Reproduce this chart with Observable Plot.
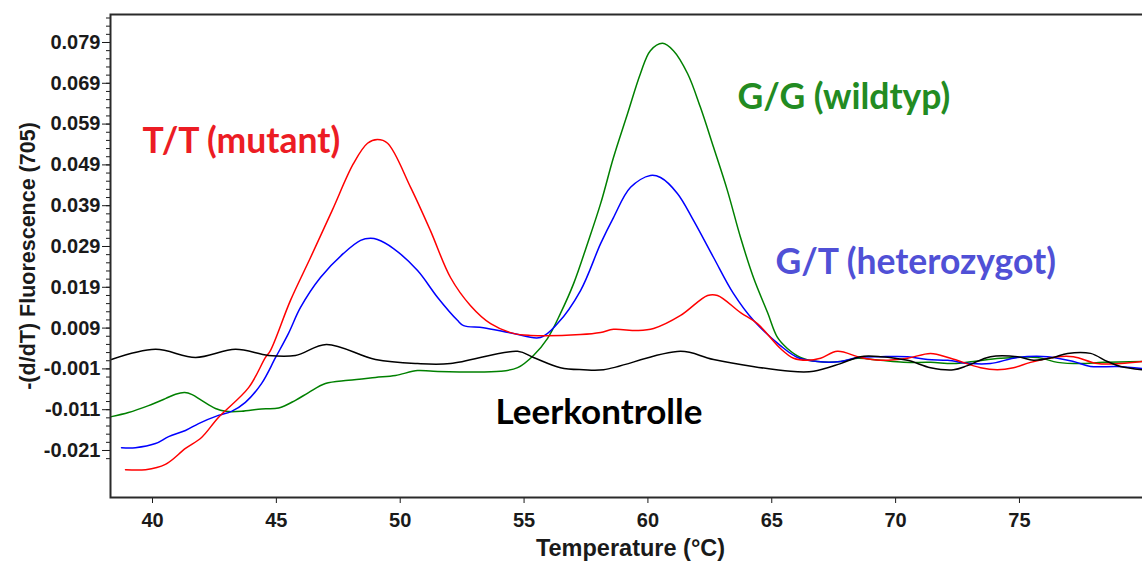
<!DOCTYPE html>
<html><head><meta charset="utf-8">
<script src="https://cdn.jsdelivr.net/npm/d3@7"></script>
<script src="https://cdn.jsdelivr.net/npm/@observablehq/plot@0.6"></script>
<style>html,body{margin:0;padding:0;background:#fff;overflow:hidden;width:1142px;height:561px}</style>
</head><body><div id="chart"></div>
<script>
// Axis ticks
const xTicks = [40, 45, 50, 55, 60, 65, 70, 75];
const yTicks = [0.079, 0.069, 0.059, 0.049, 0.039, 0.029, 0.019, 0.009, -0.001, -0.011, -0.021];
const yMinorTicks = d3.range(-23, 86, 2).map(k => k / 1000);

// Series: [temperature °C, -(d/dT) fluorescence]
const mutantTT = [[38.91,-0.0257],[39.72,-0.0257],[40.52,-0.0244],[41.33,-0.0205],[41.98,-0.0178],[42.66,-0.0129],[43.88,-0.0056],[44.56,0.0018],[44.76,0.0035],[45.57,0.0158],[46.38,0.0263],[47.25,0.0378],[48.11,0.0493],[48.68,0.0543],[49.08,0.0552],[49.49,0.0543],[50.42,0.0435],[51.22,0.0329],[52.03,0.0214],[52.84,0.0145],[53.65,0.0101],[54.57,0.0077],[55.26,0.0072],[57.28,0.0074],[58.09,0.0079],[58.61,0.0087],[59.58,0.0084],[60.23,0.0089],[61.32,0.0121],[62.41,0.0170],[62.81,0.0170],[63.74,0.0128],[64.42,0.0101],[65.35,0.0040],[65.88,0.0016],[66.44,0.0011],[66.97,0.0016],[67.65,0.0033],[68.58,0.0018],[69.39,0.0011],[70.48,0.0016],[71.41,0.0028],[72.22,0.0016],[73.43,-0.0007],[74.11,-0.0012],[74.76,-0.0007],[75.45,0.0006],[76.54,0.0020],[77.18,0.0020],[78.15,0.0003],[79.08,0.0003],[79.97,0.0008]];
const heteroGT = [[38.75,-0.0203],[39.31,-0.0203],[40.12,-0.0193],[40.65,-0.0176],[41.33,-0.0161],[41.86,-0.0144],[42.66,-0.0124],[43.19,-0.0114],[43.75,-0.0092],[44.40,-0.0046],[44.97,0.0018],[45.49,0.0077],[45.97,0.0140],[46.78,0.0214],[47.71,0.0273],[48.40,0.0305],[48.80,0.0310],[49.08,0.0307],[49.73,0.0285],[50.70,0.0231],[51.51,0.0165],[52.31,0.0109],[52.56,0.0096],[53.36,0.0091],[54.57,0.0077],[55.66,0.0067],[56.35,0.0101],[57.28,0.0182],[58.09,0.0297],[58.61,0.0361],[59.30,0.0435],[60.10,0.0464],[60.51,0.0459],[61.19,0.0420],[61.84,0.0354],[62.65,0.0263],[63.45,0.0175],[64.26,0.0109],[65.35,0.0047],[66.04,0.0018],[66.85,0.0008],[67.78,0.0008],[68.46,0.0018],[69.39,0.0020],[70.48,0.0020],[71.29,0.0013],[72.10,0.0011],[73.02,0.0003],[73.83,0.0003],[74.92,0.0018],[76.13,0.0020],[77.18,0.0008],[77.87,-0.0004],[78.96,-0.0004],[79.97,-0.0009]];
const wildGG = [[38.34,-0.0127],[39.03,-0.0117],[39.84,-0.0100],[40.52,-0.0083],[40.93,-0.0072],[41.30,-0.0068],[41.60,-0.0073],[41.98,-0.0087],[42.54,-0.0107],[42.95,-0.0114],[43.59,-0.0114],[44.40,-0.0108],[45.09,-0.0106],[45.77,-0.0087],[46.30,-0.0068],[46.98,-0.0046],[47.91,-0.0038],[49.00,-0.0031],[49.81,-0.0026],[50.70,-0.0014],[51.34,-0.0016],[54.05,-0.0016],[54.74,-0.0007],[55.38,0.0023],[55.95,0.0065],[56.47,0.0126],[57.00,0.0199],[57.56,0.0297],[58.09,0.0395],[58.61,0.0508],[59.18,0.0616],[59.70,0.0714],[60.10,0.0770],[60.59,0.0788],[61.03,0.0770],[61.60,0.0714],[62.12,0.0631],[62.65,0.0533],[63.21,0.0427],[63.74,0.0312],[64.26,0.0214],[64.83,0.0128],[65.23,0.0067],[65.63,0.0040],[66.16,0.0018],[66.85,0.0008],[67.78,0.0008],[68.46,0.0016],[69.39,0.0011],[70.32,0.0006],[71.41,0.0006],[72.34,0.0003],[73.14,0.0008],[74.23,0.0016],[75.73,0.0018],[76.54,0.0006],[77.46,0.0003],[78.39,0.0006],[79.97,0.0008]];
const blankControl = [[38.34,0.0013],[40.12,0.0038],[41.74,0.0018],[43.35,0.0038],[44.68,0.0023],[45.77,0.0023],[47.02,0.0050],[49.00,0.0013],[50.70,0.0003],[52.03,0.0003],[54.74,0.0033],[55.38,0.0018],[56.47,-0.0007],[57.40,-0.0012],[58.21,-0.0012],[61.32,0.0033],[62.65,0.0013],[65.76,-0.0016],[66.69,-0.0016],[67.78,0.0003],[68.58,0.0020],[69.39,0.0020],[70.48,0.0011],[71.41,-0.0007],[72.34,-0.0012],[72.90,-0.0002],[73.83,0.0020],[74.92,0.0020],[75.57,0.0011],[76.37,0.0018],[76.94,0.0028],[77.87,0.0028],[78.55,0.0008],[79.08,-0.0004],[79.97,-0.0012]];

const seriesNames = ["G/G", "G/T", "T/T", "Leer"];
const seriesData = [wildGG, heteroGT, mutantTT, blankControl];
const seriesColors = ["#008000", "#0000ff", "#ff0000", "#000000"];

// Annotations
const labelTexts = ["T/T (mutant)", "G/G (wildtyp)", "G/T (heterozygot)", "Leerkontrolle"];
const labelT = [39.6, 63.62, 65.15, 53.85];
const labelV = [0.0547, 0.0655, 0.0251, -0.0117];
const labelColors = ["#ec1c24", "#228b22", "#5050d6", "#000000"];

const rows = [];
seriesNames.forEach((name, i) => seriesData[i].forEach(([T, v]) => rows.push({series: name, T, v})));

const chart = Plot.plot({
  width: 1150, height: 561,
  marginLeft: 110, marginRight: 0, marginTop: 14, marginBottom: 64,
  style: {fontFamily: "'Liberation Sans', Arial, sans-serif", fontWeight: "bold", fontSize: "20px", color: "#1a1a1a", background: "white", maxWidth: "none"},
  x: {domain: [38.304, 80.29]},
  y: {domain: [-0.03252, 0.08586]},
  color: {domain: seriesNames, range: seriesColors},
  marks: [
    Plot.axisY({ticks: yMinorTicks, tickSize: 4, tickFormat: () => "", label: null}),
    Plot.axisY({ticks: yTicks, tickSize: 8, tickPadding: 2, tickFormat: d => d.toFixed(3), label: null}),
    Plot.axisX({ticks: xTicks, tickSize: 6, tickPadding: 9, label: null}),
    Plot.line(rows, {x: "T", y: "v", z: "series", stroke: "series", strokeWidth: 1.5, curve: "catmull-rom"}),
    Plot.frame({stroke: "#2a2a2a", strokeWidth: 2}),
    ...labelTexts.map((t, i) => Plot.text([t], {x: () => labelT[i], y: () => labelV[i], text: d => d, fill: labelColors[i], textAnchor: "start", lineAnchor: "middle", fontFamily: "Lato, 'Open Sans', sans-serif", fontWeight: "bold", fontSize: i === 3 ? 35 : 35.5})),
    Plot.text(["Temperature (°C)"], {frameAnchor: "bottom", dy: 51, textAnchor: "middle", lineAnchor: "middle", text: d => d, fontSize: 23.5}),
    Plot.text(["-(d/dT) Fluorescence (705)"], {frameAnchor: "left", dx: -82, rotate: -90, textAnchor: "middle", lineAnchor: "middle", text: d => d, fontSize: 21.5})
  ]
});
document.getElementById("chart").appendChild(chart);
</script>
</body></html>
